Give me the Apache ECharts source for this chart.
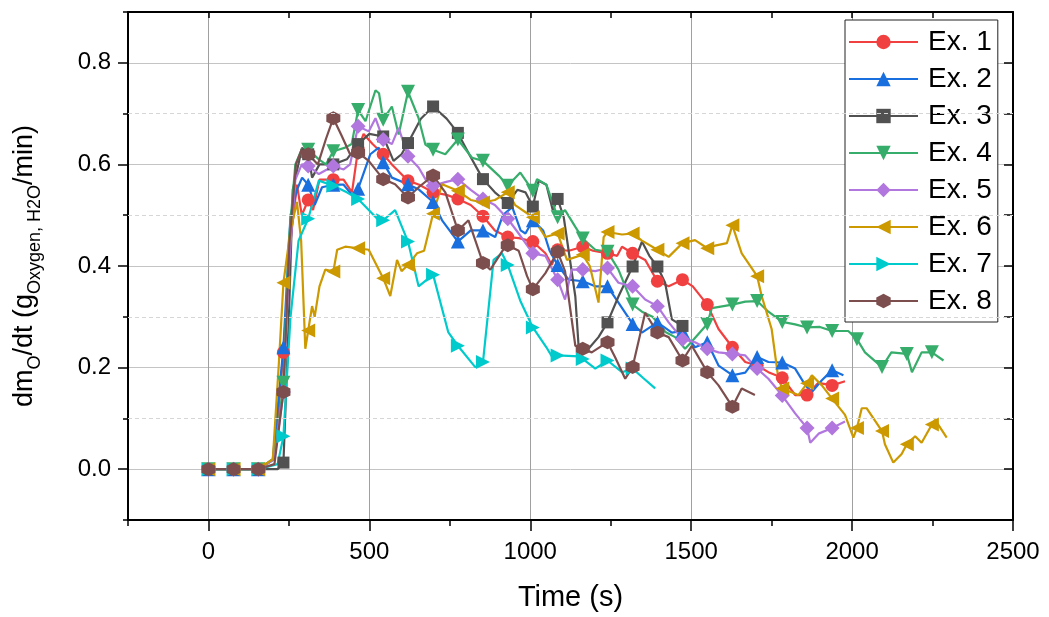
<!DOCTYPE html>
<html><head><meta charset="utf-8">
<script src="https://cdn.jsdelivr.net/npm/echarts@6/dist/echarts.min.js"></script>
<style>html,body{margin:0;padding:0;background:#fff}#c{width:1049px;height:617px}</style>
</head><body><div id="c"></div>
<script>
const seriesNames = ['Ex. 1','Ex. 2','Ex. 3','Ex. 4','Ex. 5','Ex. 6','Ex. 7','Ex. 8'];
const xTickLabels = [0,500,1000,1500,2000,2500];
const yTickLabels = [0.0,0.2,0.4,0.6,0.8];
const markerTimes = [0,78,155,233,310,388,465,543,620,698,775,853,930,1008,1085,1163,1240,1318,1395,1473,1550,1628,1705,1783,1860,1938,2015,2093,2170,2248];

const ex1 = [[0,0],[78,0],[155,0],[205,0.02],[233,0.23],[255,0.45],[275,0.56],[290,0.5],[310,0.53],[325,0.51],[345,0.57],[388,0.57],[420,0.57],[446,0.545],[465,0.63],[482,0.66],[510,0.64],[543,0.62],[570,0.6],[620,0.568],[655,0.56],[698,0.545],[740,0.54],[775,0.532],[815,0.52],[853,0.498],[890,0.47],[930,0.457],[965,0.455],[1008,0.448],[1047,0.425],[1067,0.402],[1085,0.432],[1120,0.43],[1163,0.438],[1195,0.43],[1240,0.425],[1270,0.42],[1285,0.438],[1318,0.425],[1357,0.412],[1395,0.37],[1430,0.36],[1473,0.373],[1505,0.36],[1550,0.324],[1585,0.276],[1628,0.24],[1668,0.211],[1705,0.204],[1740,0.191],[1783,0.18],[1823,0.146],[1860,0.146],[1895,0.17],[1938,0.165],[1978,0.173]];
const ex2 = [[0,0],[78,0],[155,0],[200,0.02],[233,0.24],[255,0.5],[275,0.55],[291,0.574],[310,0.56],[330,0.52],[353,0.555],[388,0.56],[420,0.56],[446,0.54],[465,0.552],[503,0.62],[529,0.633],[543,0.604],[570,0.574],[620,0.561],[655,0.55],[698,0.526],[726,0.49],[775,0.448],[815,0.47],[853,0.47],[891,0.457],[915,0.5],[944,0.516],[970,0.47],[985,0.464],[1008,0.49],[1040,0.47],[1060,0.43],[1085,0.402],[1119,0.373],[1163,0.37],[1202,0.36],[1240,0.36],[1274,0.328],[1318,0.286],[1347,0.269],[1395,0.289],[1440,0.269],[1473,0.272],[1512,0.24],[1550,0.25],[1585,0.204],[1628,0.185],[1668,0.19],[1705,0.221],[1740,0.211],[1783,0.21],[1823,0.198],[1855,0.165],[1875,0.152],[1906,0.175],[1938,0.195],[1973,0.185]];
const ex3 = [[0,0],[78,0],[155,0],[215,0],[233,0.013],[250,0.3],[262,0.55],[291,0.633],[310,0.62],[322,0.574],[345,0.6],[388,0.6],[430,0.61],[465,0.64],[500,0.66],[543,0.655],[575,0.607],[600,0.62],[620,0.642],[660,0.69],[698,0.714],[740,0.69],[775,0.662],[810,0.62],[853,0.571],[890,0.545],[930,0.524],[960,0.55],[985,0.545],[1008,0.517],[1026,0.568],[1050,0.56],[1070,0.51],[1085,0.532],[1104,0.496],[1140,0.34],[1150,0.243],[1181,0.237],[1212,0.26],[1240,0.289],[1274,0.34],[1318,0.399],[1347,0.448],[1370,0.42],[1395,0.399],[1419,0.367],[1440,0.295],[1473,0.282],[1485,0.28]];
const ex4 = [[0,0],[78,0],[155,0],[205,0.02],[233,0.17],[250,0.45],[270,0.6],[290,0.63],[310,0.629],[343,0.61],[365,0.6],[388,0.626],[425,0.633],[445,0.64],[465,0.707],[488,0.685],[519,0.746],[530,0.74],[543,0.688],[570,0.714],[591,0.659],[620,0.743],[653,0.691],[674,0.639],[698,0.629],[736,0.62],[775,0.649],[819,0.613],[853,0.607],[902,0.578],[930,0.558],[969,0.584],[1008,0.548],[1021,0.571],[1050,0.56],[1085,0.496],[1108,0.51],[1140,0.477],[1163,0.454],[1202,0.432],[1240,0.428],[1274,0.393],[1318,0.324],[1347,0.31],[1380,0.3],[1420,0.27],[1450,0.26],[1481,0.237],[1500,0.25],[1550,0.286],[1564,0.317],[1628,0.324],[1668,0.33],[1705,0.331],[1740,0.31],[1783,0.29],[1823,0.285],[1860,0.279],[1900,0.28],[1938,0.272],[1988,0.272],[2015,0.256],[2040,0.23],[2093,0.201],[2122,0.23],[2170,0.227],[2186,0.191],[2216,0.23],[2248,0.23],[2284,0.214]];
const ex5 = [[0,0],[78,0],[155,0],[205,0.02],[233,0.152],[250,0.4],[270,0.57],[290,0.6],[310,0.597],[343,0.581],[388,0.597],[420,0.59],[440,0.6],[465,0.675],[498,0.665],[519,0.691],[543,0.649],[570,0.64],[591,0.672],[620,0.616],[653,0.594],[675,0.57],[698,0.558],[736,0.565],[775,0.571],[815,0.55],[853,0.532],[890,0.52],[930,0.493],[964,0.464],[1008,0.425],[1047,0.42],[1085,0.373],[1108,0.334],[1129,0.393],[1163,0.393],[1202,0.39],[1240,0.396],[1274,0.367],[1318,0.36],[1357,0.334],[1395,0.321],[1430,0.289],[1473,0.256],[1512,0.25],[1550,0.237],[1585,0.23],[1628,0.227],[1668,0.224],[1705,0.198],[1740,0.178],[1783,0.145],[1823,0.11],[1860,0.081],[1870,0.052],[1896,0.07],[1938,0.081],[1978,0.094]];
const ex6 = [[0,0],[78,0],[155,0],[200,0.02],[218,0.2],[233,0.367],[255,0.47],[275,0.526],[288,0.45],[301,0.237],[310,0.273],[322,0.321],[330,0.3],[345,0.36],[363,0.393],[388,0.389],[400,0.432],[425,0.438],[465,0.435],[498,0.432],[543,0.376],[565,0.341],[586,0.412],[600,0.39],[620,0.402],[648,0.425],[670,0.43],[698,0.503],[726,0.561],[775,0.548],[815,0.53],[853,0.525],[890,0.53],[930,0.545],[953,0.52],[1008,0.496],[1047,0.457],[1085,0.464],[1114,0.412],[1163,0.422],[1185,0.4],[1212,0.328],[1228,0.457],[1240,0.467],[1285,0.462],[1318,0.464],[1347,0.45],[1395,0.432],[1430,0.418],[1473,0.445],[1512,0.451],[1550,0.435],[1574,0.44],[1611,0.445],[1628,0.48],[1657,0.425],[1705,0.38],[1719,0.341],[1750,0.276],[1771,0.178],[1783,0.159],[1833,0.146],[1860,0.169],[1875,0.185],[1906,0.165],[1938,0.139],[1978,0.107],[2004,0.062],[2015,0.081],[2030,0.12],[2045,0.12],[2093,0.075],[2102,0.049],[2128,0.013],[2154,0.03],[2170,0.049],[2196,0.065],[2216,0.052],[2248,0.088],[2258,0.097],[2294,0.062]];
const ex7 = [[0,0],[78,0],[155,0],[215,0.01],[233,0.065],[255,0.3],[280,0.45],[310,0.493],[343,0.568],[388,0.558],[430,0.545],[465,0.532],[529,0.49],[543,0.49],[580,0.51],[620,0.448],[653,0.36],[698,0.383],[745,0.27],[775,0.243],[829,0.201],[853,0.211],[886,0.412],[912,0.425],[930,0.402],[970,0.33],[1008,0.279],[1050,0.24],[1069,0.22],[1085,0.224],[1150,0.222],[1163,0.217],[1202,0.198],[1240,0.214],[1285,0.191],[1318,0.198],[1350,0.18],[1388,0.159]];
const ex8 = [[0,0],[78,0],[155,0],[205,0.01],[233,0.152],[252,0.45],[272,0.6],[290,0.63],[310,0.62],[340,0.6],[365,0.65],[388,0.691],[415,0.655],[440,0.62],[465,0.623],[498,0.607],[543,0.571],[580,0.561],[620,0.535],[653,0.555],[698,0.578],[736,0.545],[775,0.47],[808,0.49],[853,0.406],[876,0.393],[922,0.438],[930,0.441],[964,0.43],[990,0.38],[1008,0.354],[1047,0.386],[1085,0.428],[1108,0.39],[1140,0.243],[1163,0.237],[1191,0.23],[1240,0.25],[1264,0.22],[1295,0.178],[1318,0.201],[1357,0.308],[1395,0.269],[1430,0.26],[1473,0.214],[1502,0.243],[1550,0.191],[1585,0.165],[1628,0.123],[1657,0.159],[1698,0.146]];

const allData = [ex1,ex2,ex3,ex4,ex5,ex6,ex7,ex8];
const colors = ['#F14040','#1A6FDF','#515151','#37AD6B','#B177DE','#CC9900','#00CBCC','#7D4E4E'];
const hexagon = 'path://M0,-10 L8.66,-5 L8.66,5 L0,10 L-8.66,5 L-8.66,-5 Z';
const symbols = ['circle','triangle','rect','triangle','diamond','triangle','triangle',hexagon];
const rotations = [0,0,0,180,0,90,-90,0];
const sizes = [13,14,12,14,15,14,14,14];
const markSet = new Set(markerTimes);
const FONT = "'Liberation Sans', Arial, sans-serif";

const series = allData.map((d,i)=>({
  name: seriesNames[i], type:'line', z: 3,
  data: d.map(p => markSet.has(p[0]) ? {value:p} : {value:p, symbol:'none'}),
  symbol: symbols[i], symbolRotate: rotations[i], symbolSize: sizes[i],
  showSymbol: true, showAllSymbol: true,
  lineStyle:{color:colors[i], width:2.2},
  itemStyle:{color:colors[i], borderWidth:0},
  emphasis:{disabled:true}
}));
series.unshift({
  type:'line', data:[], z:1, silent:true,
  markLine:{silent:true, symbol:'none', label:{show:false},
    lineStyle:{type:[4,3], color:'#d6d6d6', width:1},
    data:[{yAxis:0.1},{yAxis:0.3},{yAxis:0.5},{yAxis:0.7}]}
});

const chart = echarts.init(document.getElementById('c'), null, {renderer:'canvas'});
const axisBase = {min:-250, max:2500, type:'value'};
chart.setOption({
  animation:false,
  backgroundColor:'#fff',
  textStyle:{fontFamily:FONT},
  grid:{left:128, right:36, top:12, bottom:96},
  legend:{
    data: seriesNames, orient:'vertical', left:845, top:20,
    itemWidth:69, itemHeight:18, itemGap:9,
    padding:[8,6,7,3],
    borderColor:'#222', borderWidth:1, backgroundColor:'#fff',
    textStyle:{fontSize:28, color:'#000', fontFamily:FONT, padding:[0,0,0,5]}
  },
  xAxis:[
    Object.assign({}, axisBase, {
      position:'bottom', interval:250,
      name:'Time (s)', nameLocation:'middle', nameGap:63,
      nameTextStyle:{fontSize:29, color:'#000', fontFamily:FONT},
      axisLine:{show:true, onZero:false, lineStyle:{color:'#000', width:2}},
      axisTick:{show:true, inside:false, length:6, lineStyle:{color:'#000', width:1.5}},
      axisLabel:{fontSize:24, color:'#000', margin:20, fontFamily:FONT,
        formatter: v => (xTickLabels.indexOf(v) >= 0 ? String(v) : '')},
      splitLine:{show:true, lineStyle:{color:['rgba(0,0,0,0)','#a0a0a0'], width:1}}
    }),
    Object.assign({}, axisBase, {
      position:'bottom', interval:250,
      axisLine:{show:false, onZero:false},
      axisTick:{show:true, inside:false, length:11, customValues: xTickLabels, lineStyle:{color:'#000', width:1.5}},
      axisLabel:{show:false}, splitLine:{show:false}
    }),
    Object.assign({}, axisBase, {
      position:'top', interval:250,
      axisLine:{show:true, onZero:false, lineStyle:{color:'#000', width:2}},
      axisTick:{show:true, inside:true, length:6, lineStyle:{color:'#000', width:1.5}},
      axisLabel:{show:false}, splitLine:{show:false}
    })
  ],
  yAxis:[
    {type:'value', min:-0.1, max:0.9, interval:0.1, position:'left',
      name:'{a|dm}{s|O}{a|/dt (g}{s|Oxygen, H2O}{a|/min)}',
      nameLocation:'middle', nameGap:84, nameRotate:90,
      nameTextStyle:{color:'#000', fontFamily:FONT,
        rich:{a:{fontSize:27, lineHeight:38, verticalAlign:'middle', color:'#000', fontFamily:FONT},
              s:{fontSize:18, lineHeight:18, verticalAlign:'bottom', color:'#000', fontFamily:FONT}}},
      axisLine:{show:true, onZero:false, lineStyle:{color:'#000', width:2}},
      axisTick:{show:true, inside:false, length:5, lineStyle:{color:'#000', width:1.5}},
      axisLabel:{fontSize:24, color:'#000', margin:17, fontFamily:FONT,
        formatter: v => { const r = Math.round(v*10); return (r>=0 && r%2===0 && r<=8) ? (r/10).toFixed(1) : ''; }},
      splitLine:{show:true, lineStyle:{color:['rgba(0,0,0,0)','#c4c4c4'], width:1}}
    },
    {type:'value', min:-0.1, max:0.9, interval:0.1, position:'left',
      axisLine:{show:false, onZero:false},
      axisTick:{show:true, inside:false, length:10, customValues: yTickLabels, lineStyle:{color:'#000', width:1.5}},
      axisLabel:{show:false}, splitLine:{show:false}
    },
    {type:'value', min:-0.1, max:0.9, interval:0.1, position:'right',
      axisLine:{show:true, onZero:false, lineStyle:{color:'#000', width:2}},
      axisTick:{show:true, inside:true, length:9, lineStyle:{color:'#000', width:1.5}},
      axisLabel:{show:false}, splitLine:{show:false}
    }
  ],
  series: series
});
</script></body></html>
